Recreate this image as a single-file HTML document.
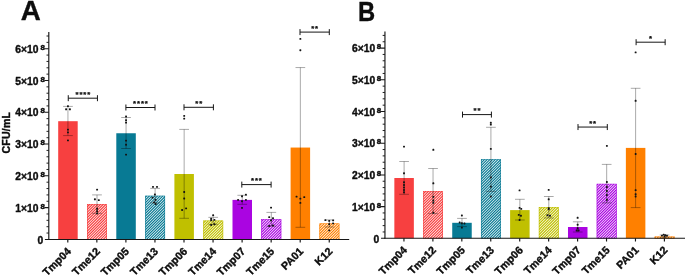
<!DOCTYPE html>
<html><head><meta charset="utf-8"><title>Figure</title>
<style>
html,body{margin:0;padding:0;background:#fff;}
body{width:685px;height:275px;overflow:hidden;position:relative;font-family:"Liberation Sans",sans-serif;}
svg text{font-family:"Liberation Sans",sans-serif;font-weight:bold;fill:#0d0d0d;stroke:#0d0d0d;stroke-width:0.38px;stroke-linejoin:round;}
.t{font-size:10.3px;}
.xl{font-size:10.7px;letter-spacing:0.1px;}
.sup{font-size:7.9px;stroke-width:0.5px;}
.s{font-size:7.7px;stroke-width:0.25px;}
.L{font-size:28px;}
.yt{font-size:10.5px;letter-spacing:0.25px;}
</style></head><body>
<svg width="685" height="275" viewBox="0 0 685 275" style="position:absolute;left:0;top:0;will-change:transform">
<defs>
</defs>
<rect width="685" height="275" fill="#fff"/>
<rect x="58.20" y="121.20" width="19.5" height="118.20" fill="#F74040"/>
<clipPath id="cA1"><rect x="87.05" y="204.00" width="19.90" height="35.40"/></clipPath>
<g clip-path="url(#cA1)"><path d="M46.60 239.40l35.40 -35.40M49.30 239.40l35.40 -35.40M52.00 239.40l35.40 -35.40M54.70 239.40l35.40 -35.40M57.40 239.40l35.40 -35.40M60.10 239.40l35.40 -35.40M62.80 239.40l35.40 -35.40M65.50 239.40l35.40 -35.40M68.20 239.40l35.40 -35.40M70.90 239.40l35.40 -35.40M73.60 239.40l35.40 -35.40M76.30 239.40l35.40 -35.40M79.00 239.40l35.40 -35.40M81.70 239.40l35.40 -35.40M84.40 239.40l35.40 -35.40M87.10 239.40l35.40 -35.40M89.80 239.40l35.40 -35.40M92.50 239.40l35.40 -35.40M95.20 239.40l35.40 -35.40M97.90 239.40l35.40 -35.40M100.60 239.40l35.40 -35.40M103.30 239.40l35.40 -35.40M106.00 239.40l35.40 -35.40M108.70 239.40l35.40 -35.40" stroke="#F74040" stroke-width="1.2" fill="none"/></g>
<rect x="87.35" y="204.30" width="19.30" height="35.40" fill="none" stroke="#F74040" stroke-width="0.6"/>
<rect x="116.30" y="133.25" width="19.5" height="106.15" fill="#087A94"/>
<clipPath id="cA3"><rect x="145.15" y="195.70" width="19.90" height="43.70"/></clipPath>
<g clip-path="url(#cA3)"><path d="M97.90 239.40l43.70 -43.70M100.60 239.40l43.70 -43.70M103.30 239.40l43.70 -43.70M106.00 239.40l43.70 -43.70M108.70 239.40l43.70 -43.70M111.40 239.40l43.70 -43.70M114.10 239.40l43.70 -43.70M116.80 239.40l43.70 -43.70M119.50 239.40l43.70 -43.70M122.20 239.40l43.70 -43.70M124.90 239.40l43.70 -43.70M127.60 239.40l43.70 -43.70M130.30 239.40l43.70 -43.70M133.00 239.40l43.70 -43.70M135.70 239.40l43.70 -43.70M138.40 239.40l43.70 -43.70M141.10 239.40l43.70 -43.70M143.80 239.40l43.70 -43.70M146.50 239.40l43.70 -43.70M149.20 239.40l43.70 -43.70M151.90 239.40l43.70 -43.70M154.60 239.40l43.70 -43.70M157.30 239.40l43.70 -43.70M160.00 239.40l43.70 -43.70M162.70 239.40l43.70 -43.70M165.40 239.40l43.70 -43.70" stroke="#087A94" stroke-width="1.2" fill="none"/></g>
<rect x="145.45" y="196.00" width="19.30" height="43.70" fill="none" stroke="#087A94" stroke-width="0.6"/>
<rect x="174.40" y="174.00" width="19.5" height="65.40" fill="#C0C000"/>
<clipPath id="cA5"><rect x="203.25" y="220.50" width="19.90" height="18.90"/></clipPath>
<g clip-path="url(#cA5)"><path d="M181.60 239.40l18.90 -18.90M184.30 239.40l18.90 -18.90M187.00 239.40l18.90 -18.90M189.70 239.40l18.90 -18.90M192.40 239.40l18.90 -18.90M195.10 239.40l18.90 -18.90M197.80 239.40l18.90 -18.90M200.50 239.40l18.90 -18.90M203.20 239.40l18.90 -18.90M205.90 239.40l18.90 -18.90M208.60 239.40l18.90 -18.90M211.30 239.40l18.90 -18.90M214.00 239.40l18.90 -18.90M216.70 239.40l18.90 -18.90M219.40 239.40l18.90 -18.90M222.10 239.40l18.90 -18.90M224.80 239.40l18.90 -18.90" stroke="#C0C000" stroke-width="1.2" fill="none"/></g>
<rect x="203.55" y="220.80" width="19.30" height="18.90" fill="none" stroke="#C0C000" stroke-width="0.6"/>
<rect x="232.50" y="199.90" width="19.5" height="39.50" fill="#AA05E1"/>
<clipPath id="cA7"><rect x="261.35" y="219.20" width="19.90" height="20.20"/></clipPath>
<g clip-path="url(#cA7)"><path d="M238.30 239.40l20.20 -20.20M241.00 239.40l20.20 -20.20M243.70 239.40l20.20 -20.20M246.40 239.40l20.20 -20.20M249.10 239.40l20.20 -20.20M251.80 239.40l20.20 -20.20M254.50 239.40l20.20 -20.20M257.20 239.40l20.20 -20.20M259.90 239.40l20.20 -20.20M262.60 239.40l20.20 -20.20M265.30 239.40l20.20 -20.20M268.00 239.40l20.20 -20.20M270.70 239.40l20.20 -20.20M273.40 239.40l20.20 -20.20M276.10 239.40l20.20 -20.20M278.80 239.40l20.20 -20.20M281.50 239.40l20.20 -20.20" stroke="#AA05E1" stroke-width="1.2" fill="none"/></g>
<rect x="261.65" y="219.50" width="19.30" height="20.20" fill="none" stroke="#AA05E1" stroke-width="0.6"/>
<rect x="290.60" y="147.55" width="19.5" height="91.85" fill="#FF8000"/>
<clipPath id="cA9"><rect x="319.45" y="223.40" width="19.90" height="16.00"/></clipPath>
<g clip-path="url(#cA9)"><path d="M303.10 239.40l16.00 -16.00M305.80 239.40l16.00 -16.00M308.50 239.40l16.00 -16.00M311.20 239.40l16.00 -16.00M313.90 239.40l16.00 -16.00M316.60 239.40l16.00 -16.00M319.30 239.40l16.00 -16.00M322.00 239.40l16.00 -16.00M324.70 239.40l16.00 -16.00M327.40 239.40l16.00 -16.00M330.10 239.40l16.00 -16.00M332.80 239.40l16.00 -16.00M335.50 239.40l16.00 -16.00M338.20 239.40l16.00 -16.00M340.90 239.40l16.00 -16.00" stroke="#FF8000" stroke-width="1.2" fill="none"/></g>
<rect x="319.75" y="223.70" width="19.30" height="16.00" fill="none" stroke="#FF8000" stroke-width="0.6"/>
<path d="M67.95 106.40V135.60M63.10 106.40h9.7M63.10 135.60h9.7" stroke="#000" stroke-opacity="0.62" stroke-width="0.55" fill="none"/>
<path d="M97.00 194.90V213.30M92.15 194.90h9.7M92.15 213.30h9.7" stroke="#000" stroke-opacity="0.62" stroke-width="0.55" fill="none"/>
<path d="M126.05 117.50V148.50M121.20 117.50h9.7M121.20 148.50h9.7" stroke="#000" stroke-opacity="0.62" stroke-width="0.55" fill="none"/>
<path d="M155.10 188.40V202.90M150.25 188.40h9.7M150.25 202.90h9.7" stroke="#000" stroke-opacity="0.62" stroke-width="0.55" fill="none"/>
<path d="M184.15 129.40V218.30M179.30 129.40h9.7M179.30 218.30h9.7" stroke="#000" stroke-opacity="0.62" stroke-width="0.55" fill="none"/>
<path d="M213.20 217.35V224.30M208.35 217.35h9.7M208.35 224.30h9.7" stroke="#000" stroke-opacity="0.62" stroke-width="0.55" fill="none"/>
<path d="M242.25 195.30V204.30M237.40 195.30h9.7M237.40 204.30h9.7" stroke="#000" stroke-opacity="0.62" stroke-width="0.55" fill="none"/>
<path d="M271.30 212.40V226.20M266.45 212.40h9.7M266.45 226.20h9.7" stroke="#000" stroke-opacity="0.62" stroke-width="0.55" fill="none"/>
<path d="M300.35 67.55V227.30M295.50 67.55h9.7M295.50 227.30h9.7" stroke="#000" stroke-opacity="0.62" stroke-width="0.55" fill="none"/>
<path d="M329.40 219.90V227.00M324.55 219.90h9.7M324.55 227.00h9.7" stroke="#000" stroke-opacity="0.62" stroke-width="0.55" fill="none"/>
<rect x="67.00" y="105.15" width="1.9" height="1.9" rx="0.6" fill="#141414"/>
<rect x="65.15" y="108.35" width="1.9" height="1.9" rx="0.6" fill="#141414"/>
<rect x="68.95" y="108.35" width="1.9" height="1.9" rx="0.6" fill="#141414"/>
<rect x="67.00" y="128.65" width="1.9" height="1.9" rx="0.6" fill="#141414"/>
<rect x="67.00" y="131.45" width="1.9" height="1.9" rx="0.6" fill="#141414"/>
<rect x="67.00" y="139.45" width="1.9" height="1.9" rx="0.6" fill="#141414"/>
<rect x="96.15" y="188.70" width="1.9" height="1.9" rx="0.6" fill="#141414"/>
<rect x="93.95" y="198.35" width="1.9" height="1.9" rx="0.6" fill="#141414"/>
<rect x="97.85" y="199.15" width="1.9" height="1.9" rx="0.6" fill="#141414"/>
<rect x="96.15" y="207.85" width="1.9" height="1.9" rx="0.6" fill="#141414"/>
<rect x="96.15" y="210.25" width="1.9" height="1.9" rx="0.6" fill="#141414"/>
<rect x="96.15" y="212.55" width="1.9" height="1.9" rx="0.6" fill="#141414"/>
<rect x="125.10" y="115.55" width="1.9" height="1.9" rx="0.6" fill="#141414"/>
<rect x="125.10" y="119.25" width="1.9" height="1.9" rx="0.6" fill="#141414"/>
<rect x="125.10" y="121.65" width="1.9" height="1.9" rx="0.6" fill="#141414"/>
<rect x="125.10" y="139.65" width="1.9" height="1.9" rx="0.6" fill="#141414"/>
<rect x="125.10" y="143.75" width="1.9" height="1.9" rx="0.6" fill="#141414"/>
<rect x="125.10" y="153.65" width="1.9" height="1.9" rx="0.6" fill="#141414"/>
<rect x="152.05" y="185.95" width="1.9" height="1.9" rx="0.6" fill="#141414"/>
<rect x="156.05" y="185.95" width="1.9" height="1.9" rx="0.6" fill="#141414"/>
<rect x="153.95" y="193.55" width="1.9" height="1.9" rx="0.6" fill="#141414"/>
<rect x="151.55" y="196.65" width="1.9" height="1.9" rx="0.6" fill="#141414"/>
<rect x="154.55" y="198.95" width="1.9" height="1.9" rx="0.6" fill="#141414"/>
<rect x="153.05" y="201.45" width="1.9" height="1.9" rx="0.6" fill="#141414"/>
<rect x="154.75" y="203.05" width="1.9" height="1.9" rx="0.6" fill="#141414"/>
<rect x="183.25" y="114.95" width="1.9" height="1.9" rx="0.6" fill="#141414"/>
<rect x="183.25" y="117.65" width="1.9" height="1.9" rx="0.6" fill="#141414"/>
<rect x="183.25" y="191.05" width="1.9" height="1.9" rx="0.6" fill="#141414"/>
<rect x="183.25" y="197.55" width="1.9" height="1.9" rx="0.6" fill="#141414"/>
<rect x="185.15" y="207.45" width="1.9" height="1.9" rx="0.6" fill="#141414"/>
<rect x="181.15" y="209.05" width="1.9" height="1.9" rx="0.6" fill="#141414"/>
<rect x="212.20" y="214.35" width="1.9" height="1.9" rx="0.6" fill="#141414"/>
<rect x="210.20" y="217.75" width="1.9" height="1.9" rx="0.6" fill="#141414"/>
<rect x="210.20" y="219.25" width="1.9" height="1.9" rx="0.6" fill="#141414"/>
<rect x="213.50" y="218.95" width="1.9" height="1.9" rx="0.6" fill="#141414"/>
<rect x="210.20" y="224.05" width="1.9" height="1.9" rx="0.6" fill="#141414"/>
<rect x="213.50" y="223.35" width="1.9" height="1.9" rx="0.6" fill="#141414"/>
<rect x="244.95" y="193.65" width="1.9" height="1.9" rx="0.6" fill="#141414"/>
<rect x="241.05" y="195.35" width="1.9" height="1.9" rx="0.6" fill="#141414"/>
<rect x="237.15" y="198.95" width="1.9" height="1.9" rx="0.6" fill="#141414"/>
<rect x="244.95" y="198.95" width="1.9" height="1.9" rx="0.6" fill="#141414"/>
<rect x="241.05" y="200.25" width="1.9" height="1.9" rx="0.6" fill="#141414"/>
<rect x="241.05" y="206.95" width="1.9" height="1.9" rx="0.6" fill="#141414"/>
<rect x="270.10" y="206.65" width="1.9" height="1.9" rx="0.6" fill="#141414"/>
<rect x="268.25" y="216.15" width="1.9" height="1.9" rx="0.6" fill="#141414"/>
<rect x="272.05" y="217.25" width="1.9" height="1.9" rx="0.6" fill="#141414"/>
<rect x="270.05" y="219.45" width="1.9" height="1.9" rx="0.6" fill="#141414"/>
<rect x="268.25" y="225.05" width="1.9" height="1.9" rx="0.6" fill="#141414"/>
<rect x="272.05" y="224.55" width="1.9" height="1.9" rx="0.6" fill="#141414"/>
<rect x="299.40" y="37.95" width="1.9" height="1.9" rx="0.6" fill="#141414"/>
<rect x="299.40" y="49.25" width="1.9" height="1.9" rx="0.6" fill="#141414"/>
<rect x="295.60" y="195.65" width="1.9" height="1.9" rx="0.6" fill="#141414"/>
<rect x="303.30" y="196.15" width="1.9" height="1.9" rx="0.6" fill="#141414"/>
<rect x="299.40" y="197.65" width="1.9" height="1.9" rx="0.6" fill="#141414"/>
<rect x="299.40" y="201.95" width="1.9" height="1.9" rx="0.6" fill="#141414"/>
<rect x="324.45" y="219.15" width="1.9" height="1.9" rx="0.6" fill="#141414"/>
<rect x="328.25" y="219.95" width="1.9" height="1.9" rx="0.6" fill="#141414"/>
<rect x="332.15" y="219.45" width="1.9" height="1.9" rx="0.6" fill="#141414"/>
<rect x="328.25" y="223.15" width="1.9" height="1.9" rx="0.6" fill="#141414"/>
<rect x="332.15" y="222.45" width="1.9" height="1.9" rx="0.6" fill="#141414"/>
<rect x="328.25" y="229.45" width="1.9" height="1.9" rx="0.6" fill="#141414"/>
<path d="M48.8 32.1V239.9" stroke="#161616" stroke-width="1.15" fill="none"/>
<path d="M48.25 239.4H349.2" stroke="#161616" stroke-width="1.05" fill="none"/>
<path d="M46.50 233.04H48.8M46.50 226.69H48.8M46.50 220.33H48.8M46.50 213.98H48.8M46.50 201.26H48.8M46.50 194.91H48.8M46.50 188.55H48.8M46.50 182.20H48.8M46.50 169.48H48.8M46.50 163.13H48.8M46.50 156.77H48.8M46.50 150.42H48.8M46.50 137.70H48.8M46.50 131.35H48.8M46.50 124.99H48.8M46.50 118.64H48.8M46.50 105.92H48.8M46.50 99.57H48.8M46.50 93.21H48.8M46.50 86.86H48.8M46.50 74.14H48.8M46.50 67.79H48.8M46.50 61.43H48.8M46.50 55.08H48.8M46.50 42.36H48.8M46.50 36.01H48.8" stroke="#161616" stroke-width="0.95" fill="none"/>
<path d="M44.90 239.40H48.8M44.90 207.62H48.8M44.90 175.84H48.8M44.90 144.06H48.8M44.90 112.28H48.8M44.90 80.50H48.8M44.90 48.72H48.8" stroke="#161616" stroke-width="1.05" fill="none"/>
<path d="M67.80 239.4v3.1M96.85 239.4v3.1M125.90 239.4v3.1M154.95 239.4v3.1M184.00 239.4v3.1M213.05 239.4v3.1M242.10 239.4v3.1M271.15 239.4v3.1M300.20 239.4v3.1M329.25 239.4v3.1" stroke="#161616" stroke-width="1.15" fill="none"/>
<text x="43.20" y="243.60" text-anchor="end" class="t">0</text>
<text x="38.50" y="211.72" text-anchor="end" class="t">1×10</text>
<text x="40.50" y="208.62" class="sup">8</text>
<text x="38.50" y="179.94" text-anchor="end" class="t">2×10</text>
<text x="40.50" y="176.84" class="sup">8</text>
<text x="38.50" y="148.16" text-anchor="end" class="t">3×10</text>
<text x="40.50" y="145.06" class="sup">8</text>
<text x="38.50" y="116.38" text-anchor="end" class="t">4×10</text>
<text x="40.50" y="113.28" class="sup">8</text>
<text x="38.50" y="84.60" text-anchor="end" class="t">5×10</text>
<text x="40.50" y="81.50" class="sup">8</text>
<text x="38.50" y="52.82" text-anchor="end" class="t">6×10</text>
<text x="40.50" y="49.72" class="sup">8</text>
<text transform="translate(71.75 251.90) rotate(-45)" text-anchor="end" class="t xl">Tmp04</text>
<text transform="translate(100.80 251.90) rotate(-45)" text-anchor="end" class="t xl">Tme12</text>
<text transform="translate(129.85 251.90) rotate(-45)" text-anchor="end" class="t xl">Tmp05</text>
<text transform="translate(158.90 251.90) rotate(-45)" text-anchor="end" class="t xl">Tme13</text>
<text transform="translate(187.95 251.90) rotate(-45)" text-anchor="end" class="t xl">Tmp06</text>
<text transform="translate(217.00 251.90) rotate(-45)" text-anchor="end" class="t xl">Tme14</text>
<text transform="translate(246.05 251.90) rotate(-45)" text-anchor="end" class="t xl">Tmp07</text>
<text transform="translate(275.10 251.90) rotate(-45)" text-anchor="end" class="t xl">Tme15</text>
<text transform="translate(304.15 251.90) rotate(-45)" text-anchor="end" class="t xl">PA01</text>
<text transform="translate(333.20 251.90) rotate(-45)" text-anchor="end" class="t xl">K12</text>
<path d="M68.25 98.20H97.45M68.25 95.20v6.0M97.45 95.20v6.0" stroke="#161616" stroke-width="1.0" fill="none"/>
<text x="77.00" y="97.00" text-anchor="middle" class="s">*</text>
<text x="80.90" y="97.00" text-anchor="middle" class="s">*</text>
<text x="84.80" y="97.00" text-anchor="middle" class="s">*</text>
<text x="88.70" y="97.00" text-anchor="middle" class="s">*</text>
<path d="M125.90 107.50H155.00M125.90 104.50v6.0M155.00 104.50v6.0" stroke="#161616" stroke-width="1.0" fill="none"/>
<text x="134.60" y="106.30" text-anchor="middle" class="s">*</text>
<text x="138.50" y="106.30" text-anchor="middle" class="s">*</text>
<text x="142.40" y="106.30" text-anchor="middle" class="s">*</text>
<text x="146.30" y="106.30" text-anchor="middle" class="s">*</text>
<path d="M184.00 107.30H213.40M184.00 104.30v6.0M213.40 104.30v6.0" stroke="#161616" stroke-width="1.0" fill="none"/>
<text x="196.75" y="106.10" text-anchor="middle" class="s">*</text>
<text x="200.65" y="106.10" text-anchor="middle" class="s">*</text>
<path d="M241.80 184.60H271.10M241.80 181.60v6.0M271.10 181.60v6.0" stroke="#161616" stroke-width="1.0" fill="none"/>
<text x="252.55" y="183.40" text-anchor="middle" class="s">*</text>
<text x="256.45" y="183.40" text-anchor="middle" class="s">*</text>
<text x="260.35" y="183.40" text-anchor="middle" class="s">*</text>
<path d="M300.00 32.10H329.30M300.00 29.10v6.0M329.30 29.10v6.0" stroke="#161616" stroke-width="1.0" fill="none"/>
<text x="312.70" y="30.90" text-anchor="middle" class="s">*</text>
<text x="316.60" y="30.90" text-anchor="middle" class="s">*</text>
<text transform="translate(20.7 19.5) scale(0.99 1)" class="L">A</text>
<rect x="394.35" y="178.00" width="19.5" height="60.30" fill="#F74040"/>
<clipPath id="cB1"><rect x="423.09" y="191.05" width="19.90" height="47.25"/></clipPath>
<g clip-path="url(#cB1)"><path d="M373.40 238.30l47.25 -47.25M376.10 238.30l47.25 -47.25M378.80 238.30l47.25 -47.25M381.50 238.30l47.25 -47.25M384.20 238.30l47.25 -47.25M386.90 238.30l47.25 -47.25M389.60 238.30l47.25 -47.25M392.30 238.30l47.25 -47.25M395.00 238.30l47.25 -47.25M397.70 238.30l47.25 -47.25M400.40 238.30l47.25 -47.25M403.10 238.30l47.25 -47.25M405.80 238.30l47.25 -47.25M408.50 238.30l47.25 -47.25M411.20 238.30l47.25 -47.25M413.90 238.30l47.25 -47.25M416.60 238.30l47.25 -47.25M419.30 238.30l47.25 -47.25M422.00 238.30l47.25 -47.25M424.70 238.30l47.25 -47.25M427.40 238.30l47.25 -47.25M430.10 238.30l47.25 -47.25M432.80 238.30l47.25 -47.25M435.50 238.30l47.25 -47.25M438.20 238.30l47.25 -47.25M440.90 238.30l47.25 -47.25M443.60 238.30l47.25 -47.25" stroke="#F74040" stroke-width="1.2" fill="none"/></g>
<rect x="423.39" y="191.35" width="19.30" height="47.25" fill="none" stroke="#F74040" stroke-width="0.6"/>
<rect x="452.23" y="222.80" width="19.5" height="15.50" fill="#087A94"/>
<clipPath id="cB3"><rect x="480.97" y="159.20" width="19.90" height="79.10"/></clipPath>
<g clip-path="url(#cB3)"><path d="M397.70 238.30l79.10 -79.10M400.40 238.30l79.10 -79.10M403.10 238.30l79.10 -79.10M405.80 238.30l79.10 -79.10M408.50 238.30l79.10 -79.10M411.20 238.30l79.10 -79.10M413.90 238.30l79.10 -79.10M416.60 238.30l79.10 -79.10M419.30 238.30l79.10 -79.10M422.00 238.30l79.10 -79.10M424.70 238.30l79.10 -79.10M427.40 238.30l79.10 -79.10M430.10 238.30l79.10 -79.10M432.80 238.30l79.10 -79.10M435.50 238.30l79.10 -79.10M438.20 238.30l79.10 -79.10M440.90 238.30l79.10 -79.10M443.60 238.30l79.10 -79.10M446.30 238.30l79.10 -79.10M449.00 238.30l79.10 -79.10M451.70 238.30l79.10 -79.10M454.40 238.30l79.10 -79.10M457.10 238.30l79.10 -79.10M459.80 238.30l79.10 -79.10M462.50 238.30l79.10 -79.10M465.20 238.30l79.10 -79.10M467.90 238.30l79.10 -79.10M470.60 238.30l79.10 -79.10M473.30 238.30l79.10 -79.10M476.00 238.30l79.10 -79.10M478.70 238.30l79.10 -79.10M481.40 238.30l79.10 -79.10M484.10 238.30l79.10 -79.10M486.80 238.30l79.10 -79.10M489.50 238.30l79.10 -79.10M492.20 238.30l79.10 -79.10M494.90 238.30l79.10 -79.10M497.60 238.30l79.10 -79.10M500.30 238.30l79.10 -79.10M503.00 238.30l79.10 -79.10" stroke="#087A94" stroke-width="1.2" fill="none"/></g>
<rect x="481.27" y="159.50" width="19.30" height="79.10" fill="none" stroke="#087A94" stroke-width="0.6"/>
<rect x="510.11" y="210.10" width="19.5" height="28.20" fill="#C0C000"/>
<clipPath id="cB5"><rect x="538.85" y="207.10" width="19.90" height="31.20"/></clipPath>
<g clip-path="url(#cB5)"><path d="M505.70 238.30l31.20 -31.20M508.40 238.30l31.20 -31.20M511.10 238.30l31.20 -31.20M513.80 238.30l31.20 -31.20M516.50 238.30l31.20 -31.20M519.20 238.30l31.20 -31.20M521.90 238.30l31.20 -31.20M524.60 238.30l31.20 -31.20M527.30 238.30l31.20 -31.20M530.00 238.30l31.20 -31.20M532.70 238.30l31.20 -31.20M535.40 238.30l31.20 -31.20M538.10 238.30l31.20 -31.20M540.80 238.30l31.20 -31.20M543.50 238.30l31.20 -31.20M546.20 238.30l31.20 -31.20M548.90 238.30l31.20 -31.20M551.60 238.30l31.20 -31.20M554.30 238.30l31.20 -31.20M557.00 238.30l31.20 -31.20M559.70 238.30l31.20 -31.20" stroke="#C0C000" stroke-width="1.2" fill="none"/></g>
<rect x="539.15" y="207.40" width="19.30" height="31.20" fill="none" stroke="#C0C000" stroke-width="0.6"/>
<rect x="567.99" y="227.00" width="19.5" height="11.30" fill="#AA05E1"/>
<clipPath id="cB7"><rect x="596.73" y="183.80" width="19.90" height="54.50"/></clipPath>
<g clip-path="url(#cB7)"><path d="M538.10 238.30l54.50 -54.50M540.80 238.30l54.50 -54.50M543.50 238.30l54.50 -54.50M546.20 238.30l54.50 -54.50M548.90 238.30l54.50 -54.50M551.60 238.30l54.50 -54.50M554.30 238.30l54.50 -54.50M557.00 238.30l54.50 -54.50M559.70 238.30l54.50 -54.50M562.40 238.30l54.50 -54.50M565.10 238.30l54.50 -54.50M567.80 238.30l54.50 -54.50M570.50 238.30l54.50 -54.50M573.20 238.30l54.50 -54.50M575.90 238.30l54.50 -54.50M578.60 238.30l54.50 -54.50M581.30 238.30l54.50 -54.50M584.00 238.30l54.50 -54.50M586.70 238.30l54.50 -54.50M589.40 238.30l54.50 -54.50M592.10 238.30l54.50 -54.50M594.80 238.30l54.50 -54.50M597.50 238.30l54.50 -54.50M600.20 238.30l54.50 -54.50M602.90 238.30l54.50 -54.50M605.60 238.30l54.50 -54.50M608.30 238.30l54.50 -54.50M611.00 238.30l54.50 -54.50M613.70 238.30l54.50 -54.50M616.40 238.30l54.50 -54.50M619.10 238.30l54.50 -54.50" stroke="#AA05E1" stroke-width="1.2" fill="none"/></g>
<rect x="597.03" y="184.10" width="19.30" height="54.50" fill="none" stroke="#AA05E1" stroke-width="0.6"/>
<rect x="625.87" y="147.90" width="19.5" height="90.40" fill="#FF8000"/>
<clipPath id="cB9"><rect x="654.61" y="236.50" width="19.90" height="1.80"/></clipPath>
<g clip-path="url(#cB9)"><path d="M651.50 238.30l1.80 -1.80M654.20 238.30l1.80 -1.80M656.90 238.30l1.80 -1.80M659.60 238.30l1.80 -1.80M662.30 238.30l1.80 -1.80M665.00 238.30l1.80 -1.80M667.70 238.30l1.80 -1.80M670.40 238.30l1.80 -1.80M673.10 238.30l1.80 -1.80M675.80 238.30l1.80 -1.80" stroke="#FF8000" stroke-width="1.2" fill="none"/></g>
<rect x="654.91" y="236.80" width="19.30" height="1.80" fill="none" stroke="#FF8000" stroke-width="0.6"/>
<path d="M404.10 161.50V194.30M399.25 161.50h9.7M399.25 194.30h9.7" stroke="#000" stroke-opacity="0.62" stroke-width="0.55" fill="none"/>
<path d="M433.04 168.50V213.60M428.19 168.50h9.7M428.19 213.60h9.7" stroke="#000" stroke-opacity="0.62" stroke-width="0.55" fill="none"/>
<path d="M461.98 218.40V226.60M457.13 218.40h9.7M457.13 226.60h9.7" stroke="#000" stroke-opacity="0.62" stroke-width="0.55" fill="none"/>
<path d="M490.92 127.30V191.40M486.07 127.30h9.7M486.07 191.40h9.7" stroke="#000" stroke-opacity="0.62" stroke-width="0.55" fill="none"/>
<path d="M519.86 199.30V220.00M515.01 199.30h9.7M515.01 220.00h9.7" stroke="#000" stroke-opacity="0.62" stroke-width="0.55" fill="none"/>
<path d="M548.80 196.50V218.00M543.95 196.50h9.7M543.95 218.00h9.7" stroke="#000" stroke-opacity="0.62" stroke-width="0.55" fill="none"/>
<path d="M577.74 221.80V232.00M572.89 221.80h9.7M572.89 232.00h9.7" stroke="#000" stroke-opacity="0.62" stroke-width="0.55" fill="none"/>
<path d="M606.68 164.40V202.90M601.83 164.40h9.7M601.83 202.90h9.7" stroke="#000" stroke-opacity="0.62" stroke-width="0.55" fill="none"/>
<path d="M635.62 88.30V207.60M630.77 88.30h9.7M630.77 207.60h9.7" stroke="#000" stroke-opacity="0.62" stroke-width="0.55" fill="none"/>
<path d="M664.56 235.00V237.80M659.71 235.00h9.7M659.71 237.80h9.7" stroke="#000" stroke-opacity="0.62" stroke-width="0.55" fill="none"/>
<rect x="403.05" y="145.65" width="1.9" height="1.9" rx="0.6" fill="#141414"/>
<rect x="403.05" y="172.35" width="1.9" height="1.9" rx="0.6" fill="#141414"/>
<rect x="403.05" y="181.35" width="1.9" height="1.9" rx="0.6" fill="#141414"/>
<rect x="403.05" y="184.05" width="1.9" height="1.9" rx="0.6" fill="#141414"/>
<rect x="403.05" y="186.55" width="1.9" height="1.9" rx="0.6" fill="#141414"/>
<rect x="403.05" y="189.05" width="1.9" height="1.9" rx="0.6" fill="#141414"/>
<rect x="403.05" y="191.35" width="1.9" height="1.9" rx="0.6" fill="#141414"/>
<rect x="432.39" y="148.85" width="1.9" height="1.9" rx="0.6" fill="#141414"/>
<rect x="432.39" y="182.35" width="1.9" height="1.9" rx="0.6" fill="#141414"/>
<rect x="432.39" y="195.95" width="1.9" height="1.9" rx="0.6" fill="#141414"/>
<rect x="432.39" y="199.55" width="1.9" height="1.9" rx="0.6" fill="#141414"/>
<rect x="432.39" y="201.75" width="1.9" height="1.9" rx="0.6" fill="#141414"/>
<rect x="432.39" y="211.75" width="1.9" height="1.9" rx="0.6" fill="#141414"/>
<rect x="460.93" y="214.55" width="1.9" height="1.9" rx="0.6" fill="#141414"/>
<rect x="458.73" y="221.55" width="1.9" height="1.9" rx="0.6" fill="#141414"/>
<rect x="460.93" y="222.25" width="1.9" height="1.9" rx="0.6" fill="#141414"/>
<rect x="463.53" y="222.55" width="1.9" height="1.9" rx="0.6" fill="#141414"/>
<rect x="460.93" y="226.65" width="1.9" height="1.9" rx="0.6" fill="#141414"/>
<rect x="489.87" y="121.85" width="1.9" height="1.9" rx="0.6" fill="#141414"/>
<rect x="489.87" y="123.65" width="1.9" height="1.9" rx="0.6" fill="#141414"/>
<rect x="489.87" y="147.95" width="1.9" height="1.9" rx="0.6" fill="#141414"/>
<rect x="489.87" y="176.45" width="1.9" height="1.9" rx="0.6" fill="#141414"/>
<rect x="489.87" y="185.65" width="1.9" height="1.9" rx="0.6" fill="#141414"/>
<rect x="489.87" y="195.55" width="1.9" height="1.9" rx="0.6" fill="#141414"/>
<rect x="518.61" y="189.45" width="1.9" height="1.9" rx="0.6" fill="#141414"/>
<rect x="518.61" y="206.95" width="1.9" height="1.9" rx="0.6" fill="#141414"/>
<rect x="520.31" y="207.95" width="1.9" height="1.9" rx="0.6" fill="#141414"/>
<rect x="517.81" y="213.95" width="1.9" height="1.9" rx="0.6" fill="#141414"/>
<rect x="520.01" y="214.75" width="1.9" height="1.9" rx="0.6" fill="#141414"/>
<rect x="518.61" y="219.05" width="1.9" height="1.9" rx="0.6" fill="#141414"/>
<rect x="547.75" y="188.95" width="1.9" height="1.9" rx="0.6" fill="#141414"/>
<rect x="547.75" y="198.35" width="1.9" height="1.9" rx="0.6" fill="#141414"/>
<rect x="547.75" y="207.25" width="1.9" height="1.9" rx="0.6" fill="#141414"/>
<rect x="547.75" y="208.25" width="1.9" height="1.9" rx="0.6" fill="#141414"/>
<rect x="546.45" y="214.25" width="1.9" height="1.9" rx="0.6" fill="#141414"/>
<rect x="549.05" y="214.75" width="1.9" height="1.9" rx="0.6" fill="#141414"/>
<rect x="576.69" y="216.85" width="1.9" height="1.9" rx="0.6" fill="#141414"/>
<rect x="576.69" y="223.75" width="1.9" height="1.9" rx="0.6" fill="#141414"/>
<rect x="576.69" y="227.35" width="1.9" height="1.9" rx="0.6" fill="#141414"/>
<rect x="575.69" y="229.55" width="1.9" height="1.9" rx="0.6" fill="#141414"/>
<rect x="577.69" y="229.55" width="1.9" height="1.9" rx="0.6" fill="#141414"/>
<rect x="605.93" y="144.95" width="1.9" height="1.9" rx="0.6" fill="#141414"/>
<rect x="605.93" y="181.05" width="1.9" height="1.9" rx="0.6" fill="#141414"/>
<rect x="605.93" y="186.05" width="1.9" height="1.9" rx="0.6" fill="#141414"/>
<rect x="605.93" y="190.05" width="1.9" height="1.9" rx="0.6" fill="#141414"/>
<rect x="605.93" y="194.05" width="1.9" height="1.9" rx="0.6" fill="#141414"/>
<rect x="605.93" y="198.85" width="1.9" height="1.9" rx="0.6" fill="#141414"/>
<rect x="634.67" y="51.45" width="1.9" height="1.9" rx="0.6" fill="#141414"/>
<rect x="634.67" y="99.85" width="1.9" height="1.9" rx="0.6" fill="#141414"/>
<rect x="634.67" y="153.05" width="1.9" height="1.9" rx="0.6" fill="#141414"/>
<rect x="634.67" y="189.15" width="1.9" height="1.9" rx="0.6" fill="#141414"/>
<rect x="634.67" y="193.25" width="1.9" height="1.9" rx="0.6" fill="#141414"/>
<rect x="634.67" y="195.55" width="1.9" height="1.9" rx="0.6" fill="#141414"/>
<rect x="661.01" y="234.65" width="1.9" height="1.9" rx="0.6" fill="#141414"/>
<rect x="662.71" y="233.65" width="1.9" height="1.9" rx="0.6" fill="#141414"/>
<rect x="664.31" y="234.25" width="1.9" height="1.9" rx="0.6" fill="#141414"/>
<rect x="666.01" y="234.75" width="1.9" height="1.9" rx="0.6" fill="#141414"/>
<rect x="663.61" y="235.65" width="1.9" height="1.9" rx="0.6" fill="#141414"/>
<path d="M384.95 31.6V238.8" stroke="#161616" stroke-width="1.15" fill="none"/>
<path d="M384.4 238.3H686" stroke="#161616" stroke-width="1.05" fill="none"/>
<path d="M382.65 231.96H384.95M382.65 225.62H384.95M382.65 219.28H384.95M382.65 212.94H384.95M382.65 200.26H384.95M382.65 193.92H384.95M382.65 187.58H384.95M382.65 181.24H384.95M382.65 168.56H384.95M382.65 162.22H384.95M382.65 155.88H384.95M382.65 149.54H384.95M382.65 136.86H384.95M382.65 130.52H384.95M382.65 124.18H384.95M382.65 117.84H384.95M382.65 105.16H384.95M382.65 98.82H384.95M382.65 92.48H384.95M382.65 86.14H384.95M382.65 73.46H384.95M382.65 67.12H384.95M382.65 60.78H384.95M382.65 54.44H384.95M382.65 41.76H384.95M382.65 35.42H384.95" stroke="#161616" stroke-width="0.95" fill="none"/>
<path d="M381.05 238.30H384.95M381.05 206.60H384.95M381.05 174.90H384.95M381.05 143.20H384.95M381.05 111.50H384.95M381.05 79.80H384.95M381.05 48.10H384.95" stroke="#161616" stroke-width="1.05" fill="none"/>
<path d="M403.95 238.3v3.1M432.89 238.3v3.1M461.83 238.3v3.1M490.77 238.3v3.1M519.71 238.3v3.1M548.65 238.3v3.1M577.59 238.3v3.1M606.53 238.3v3.1M635.47 238.3v3.1M664.41 238.3v3.1" stroke="#161616" stroke-width="1.15" fill="none"/>
<text x="379.35" y="242.50" text-anchor="end" class="t">0</text>
<text x="375.25" y="210.70" text-anchor="end" class="t">1×10</text>
<text x="376.65" y="207.60" class="sup">8</text>
<text x="375.25" y="179.00" text-anchor="end" class="t">2×10</text>
<text x="376.65" y="175.90" class="sup">8</text>
<text x="375.25" y="147.30" text-anchor="end" class="t">3×10</text>
<text x="376.65" y="144.20" class="sup">8</text>
<text x="375.25" y="115.60" text-anchor="end" class="t">4×10</text>
<text x="376.65" y="112.50" class="sup">8</text>
<text x="375.25" y="83.90" text-anchor="end" class="t">5×10</text>
<text x="376.65" y="80.80" class="sup">8</text>
<text x="375.25" y="52.20" text-anchor="end" class="t">6×10</text>
<text x="376.65" y="49.10" class="sup">8</text>
<text transform="translate(407.90 250.80) rotate(-45)" text-anchor="end" class="t xl">Tmp04</text>
<text transform="translate(436.84 250.80) rotate(-45)" text-anchor="end" class="t xl">Tme12</text>
<text transform="translate(465.78 250.80) rotate(-45)" text-anchor="end" class="t xl">Tmp05</text>
<text transform="translate(494.72 250.80) rotate(-45)" text-anchor="end" class="t xl">Tme13</text>
<text transform="translate(523.66 250.80) rotate(-45)" text-anchor="end" class="t xl">Tmp06</text>
<text transform="translate(552.60 250.80) rotate(-45)" text-anchor="end" class="t xl">Tme14</text>
<text transform="translate(581.54 250.80) rotate(-45)" text-anchor="end" class="t xl">Tmp07</text>
<text transform="translate(610.48 250.80) rotate(-45)" text-anchor="end" class="t xl">Tme15</text>
<text transform="translate(639.42 250.80) rotate(-45)" text-anchor="end" class="t xl">PA01</text>
<text transform="translate(668.36 250.80) rotate(-45)" text-anchor="end" class="t xl">K12</text>
<path d="M462.50 114.60H491.40M462.50 111.60v6.0M491.40 111.60v6.0" stroke="#161616" stroke-width="1.0" fill="none"/>
<text x="475.00" y="113.40" text-anchor="middle" class="s">*</text>
<text x="478.90" y="113.40" text-anchor="middle" class="s">*</text>
<path d="M578.00 127.05H607.30M578.00 124.05v6.0M607.30 124.05v6.0" stroke="#161616" stroke-width="1.0" fill="none"/>
<text x="590.70" y="125.85" text-anchor="middle" class="s">*</text>
<text x="594.60" y="125.85" text-anchor="middle" class="s">*</text>
<path d="M636.10 42.20H665.15M636.10 39.20v6.0M665.15 39.20v6.0" stroke="#161616" stroke-width="1.0" fill="none"/>
<text x="650.62" y="41.00" text-anchor="middle" class="s">*</text>
<text transform="translate(357.9 21.0) scale(0.85 1)" class="L">B</text>
<text transform="translate(9.9 132.6) rotate(-90)" text-anchor="middle" class="yt">CFU/mL</text>
</svg>
</body></html>
